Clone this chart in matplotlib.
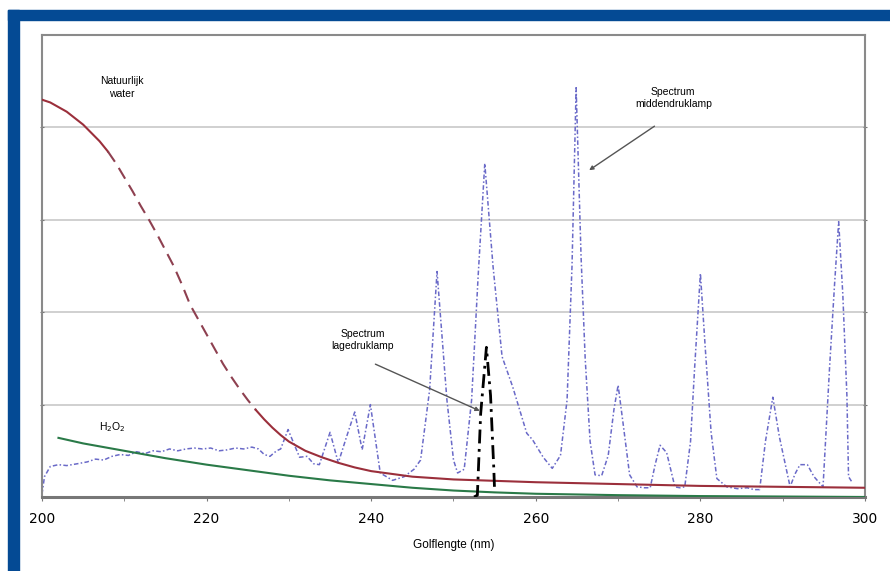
import matplotlib.pyplot as plt
import numpy as np
from matplotlib.patches import Rectangle

# Natural water absorption (brown/red curve)
water_x = [200, 201, 202, 203, 204, 205, 206, 207, 208, 209, 210, 211, 212, 213, 214, 215,
           216, 217, 218, 219, 220, 221, 222, 223, 224, 225, 226, 227, 228, 229, 230,
           232, 234, 236, 238, 240, 245, 250, 260, 270, 280, 290, 300]
water_y = [4.30, 4.27, 4.22, 4.17, 4.10, 4.03, 3.94, 3.85, 3.74, 3.61, 3.46, 3.31, 3.15, 3.00,
           2.84, 2.67, 2.50, 2.30, 2.08, 1.92, 1.76, 1.60, 1.44, 1.30, 1.17, 1.05, 0.94, 0.84,
           0.75, 0.67, 0.60, 0.50, 0.43, 0.37, 0.32, 0.28, 0.22, 0.19, 0.16, 0.14, 0.12,
           0.11, 0.10]

# H2O2 absorption (green curve)
h2o2_x = [202, 205, 210, 215, 220, 225, 230, 235, 240, 245, 250, 255, 260, 270, 280, 290, 300]
h2o2_y = [0.64, 0.58, 0.50, 0.42, 0.35, 0.29, 0.23, 0.18, 0.14, 0.10, 0.07, 0.05, 0.035,
          0.02, 0.01, 0.005, 0.0]

# Medium pressure lamp spectrum (blue dash-dot)
mp_x = [200.0, 200.3, 201.0, 202.0, 203.0, 204.3, 205.5, 206.5, 207.5, 208.5, 209.5, 210.5,
        211.5, 212.5, 213.5, 214.5, 215.5, 216.5, 217.5, 218.5, 219.5, 220.5, 221.5, 222.5,
        223.5, 224.5, 225.5, 226.3, 227.0, 227.7, 228.5, 229.0, 229.9, 230.5, 231.3, 232.2,
        233.0, 233.7, 235.0, 236.0, 237.0, 238.0, 238.9, 239.9, 241.1, 242.6, 244.0, 245.2,
        246.0, 247.1, 248.0, 249.2, 250.0, 250.5, 251.3, 252.2, 253.0, 253.8, 254.8, 255.9,
        257.2, 258.9, 259.6, 260.9, 262.0, 263.0, 263.8, 264.4, 264.9, 265.5, 266.0, 266.6,
        267.2, 268.0, 268.8, 269.5, 270.0, 270.6, 271.4, 272.3, 273.2, 273.9, 274.5, 275.1,
        275.9, 276.9, 277.5, 278.1, 278.8, 279.3, 280.0, 280.6, 281.3, 282.0, 283.2, 284.5,
        285.7, 286.5, 287.2, 287.9, 288.8, 289.6, 290.9, 291.5, 292.1, 293.0, 293.8, 294.9,
        295.7, 296.3, 296.8, 297.3, 297.8, 298.0, 298.5]
mp_y = [0.03, 0.22, 0.33, 0.35, 0.34, 0.36, 0.38, 0.41, 0.40, 0.44, 0.46, 0.45,
        0.49, 0.47, 0.50, 0.49, 0.52, 0.50, 0.52, 0.53, 0.52, 0.53, 0.50, 0.51,
        0.53, 0.52, 0.54, 0.52, 0.46, 0.44, 0.50, 0.52, 0.73, 0.60, 0.43, 0.44,
        0.36, 0.35, 0.70, 0.37, 0.65, 0.92, 0.51, 1.00, 0.26, 0.18, 0.22, 0.30,
        0.40, 1.16, 2.44, 1.05, 0.40, 0.26, 0.30, 1.05, 2.40, 3.61, 2.50, 1.52,
        1.19, 0.69, 0.62, 0.43, 0.31, 0.45, 1.05, 2.50, 4.43, 2.60, 1.50, 0.60,
        0.24, 0.23, 0.45, 0.95, 1.21, 0.80, 0.24, 0.11, 0.10, 0.10, 0.35, 0.56,
        0.48, 0.11, 0.10, 0.11, 0.60, 1.40, 2.42, 1.60, 0.70, 0.20, 0.11, 0.09,
        0.10, 0.08, 0.08, 0.60, 1.08, 0.65, 0.11, 0.25, 0.35, 0.35, 0.22, 0.11,
        1.41, 2.30, 2.98, 2.20, 1.10, 0.22, 0.15]

# Low pressure lamp spectrum (black dash-dot)
lp_x = [252.5, 252.9, 253.3, 254.0, 254.5, 254.9, 255.0]
lp_y = [0.0, 0.02, 0.90, 1.62, 1.10, 0.30, 0.05]

fig = plt.figure(figsize=(8.9, 5.71), dpi=100)

# blue frame (top and left bands)
blue = '#044a94'
fig.patches.append(Rectangle((8 / 890, 1 - 20 / 571), 1, 10 / 571,
                             transform=fig.transFigure, color=blue, zorder=0))
fig.patches.append(Rectangle((8 / 890, 0), 11 / 890, 1 - 10 / 571,
                             transform=fig.transFigure, color=blue, zorder=0))

ax = fig.add_axes([42 / 890, 74 / 571, 823 / 890, 462 / 571])

wx = np.array(water_x)
wy = np.array(water_y)
wcol = '#9b2f3b'
seg1 = wx <= 208
seg2 = (wx >= 208) & (wx <= 226)
seg3 = wx >= 226
ax.plot(wx[seg1], wy[seg1], color=wcol, lw=1.5, zorder=3)
ax.plot(wx[seg2], wy[seg2], color='#8e4050', lw=1.5, ls=(0, (6, 3.5)), zorder=3)
ax.plot(wx[seg3], wy[seg3], color=wcol, lw=1.5, zorder=3)

ax.plot(h2o2_x, h2o2_y, color='#2a7a48', lw=1.5, zorder=3)
ax.plot(mp_x, mp_y, color='#6a6ac8', lw=1.1, ls=(0, (3, 1.5, 1, 1.5)), zorder=2)
ax.plot(lp_x, lp_y, color='black', lw=2.0, ls=(0, (5, 2, 1, 2)), zorder=4)

ax.set_xlim(200, 300)
ax.set_ylim(0, 5)
ax.set_xticks(range(200, 301, 20))
ax.set_xticks(range(210, 300, 20), minor=True)
ax.set_yticks([1, 2, 3, 4])
ax.set_yticklabels([])
ax.grid(axis='y', color='#c8c8c8', lw=1.2)
ax.tick_params(axis='x', which='both', length=3, color='#777777', labelsize=10, pad=8)
ax.tick_params(axis='y', length=3, direction='inout', color='#777777', right=True, left=True)
for side in ['top', 'left', 'right']:
    ax.spines[side].set_color('#8a8a8a')
    ax.spines[side].set_linewidth(1.5)
ax.spines['bottom'].set_color('#777777')
ax.spines['bottom'].set_linewidth(2.2)

ax.set_xlabel('Golflengte (nm)', fontsize=8.5, family='Liberation Sans', labelpad=9)

txt = dict(fontsize=7.5, family='Liberation Sans', ha='center', va='center', linespacing=1.3)
ax.text(209.7, 4.43, 'Natuurlijk\nwater', **txt)
ax.text(208.5, 0.76, 'H$_2$O$_2$', **txt)
ax.text(239.0, 1.70, 'Spectrum\nlagedruklamp', **txt)
ax.text(276.7, 4.32, 'Spectrum\nmiddendruklamp', **txt)

arrow = dict(arrowstyle='-|>', color='#555555', lw=1.0, mutation_scale=6)
ax.annotate('', xy=(253.5, 0.92), xytext=(240.2, 1.45), arrowprops=arrow)
ax.annotate('', xy=(266.2, 3.52), xytext=(274.7, 4.03), arrowprops=arrow)

fig.savefig('out.png', dpi=100)
